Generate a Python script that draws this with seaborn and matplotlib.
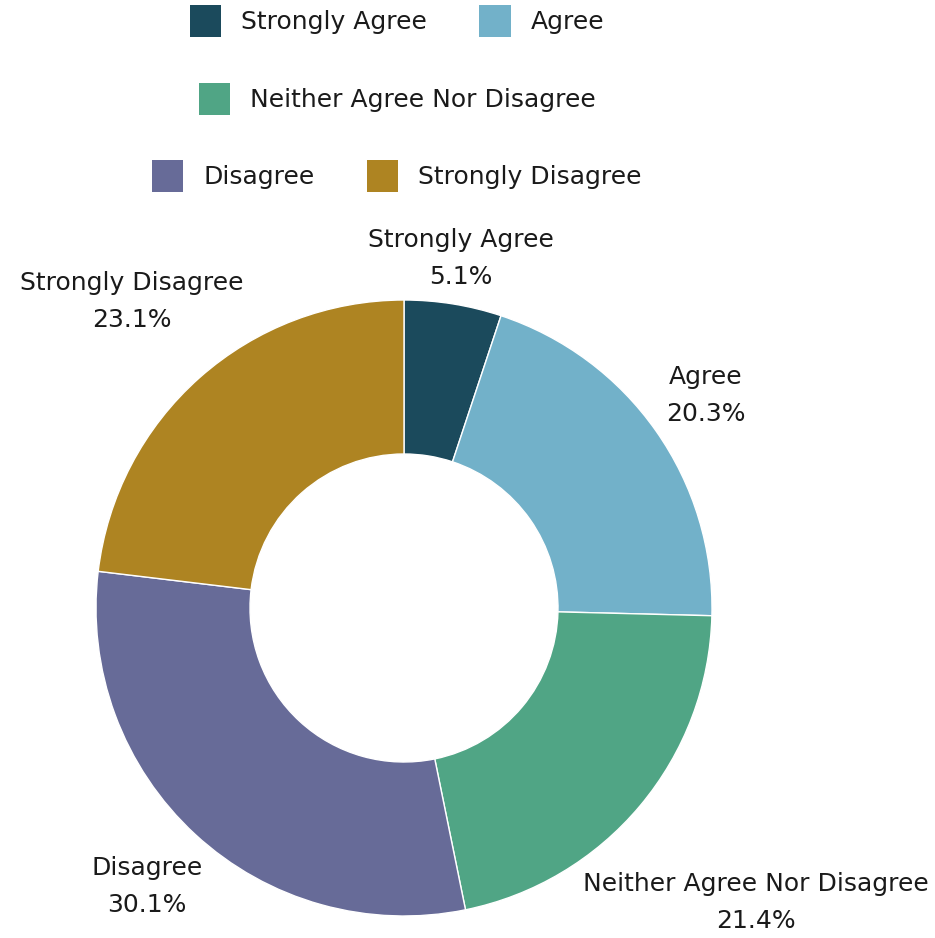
import numpy as np
import matplotlib
matplotlib.use("Agg")
import matplotlib.pyplot as plt
import seaborn as sns
from matplotlib.patches import Patch

# survey answers (percent)
categories = ["Strongly Agree", "Agree", "Neither Agree Nor Disagree",
              "Disagree", "Strongly Disagree"]
shares = [5.1, 20.3, 21.4, 30.1, 23.1]
colors = ["#1b4a5c", "#72b1c9", "#50a585", "#676b98", "#ae8422"]
legend_rows = [[0, 1], [2], [3, 4]]

sns.set_theme(style="white")
plt.rcParams["font.family"] = ["DejaVu Sans"]
FS = 18
TXT = "#1a1a1a"

W, H, DPI = 935, 938, 100
fig = plt.figure(figsize=(W / DPI, H / DPI), dpi=DPI)
ax = fig.add_axes([0, 0, 1, 1])
cx, cy, R = 404, 608, 308  # pie centre / radius in pixels

wedges, _ = ax.pie(shares, colors=colors, startangle=90, counterclock=False,
                   radius=1, wedgeprops=dict(width=0.5, edgecolor="white", linewidth=1))
ax.set_xlim(-cx / R, (W - cx) / R)
ax.set_ylim(-(H - cy) / R, cy / R)
ax.set_aspect("auto")
ax.axis("off")

# labels: box centre on the mid-angle ray, pushed out until it clears the ring
texts = []
for w, cat, s in zip(wedges, categories, shares):
    t = ax.text(0, 0, f"{cat}\n{s}%", ha="center", va="center",
                fontsize=FS, color=TXT, linespacing=1.7)
    texts.append((w, t))
fig.canvas.draw()
rend = fig.canvas.get_renderer()
for w, t in texts:
    bb = t.get_window_extent(rend)
    hw, hh = bb.width / 2 / R, bb.height / 2 / R
    ang = np.deg2rad((w.theta1 + w.theta2) / 2)
    ux, uy = np.cos(ang), np.sin(ang)
    d = 1.0
    while True:
        px, py = d * ux, d * uy
        nx = np.clip(0, px - hw, px + hw)
        ny = np.clip(0, py - hh, py + hh)
        if np.hypot(nx, ny) >= 1.035:
            break
        d += 0.002
    t.set_position((px, py))

# legend in three centred rows
rows_y = [21, 99, 176]
for row, y in zip(legend_rows, rows_y):
    handles = [Patch(facecolor=colors[i], edgecolor="none") for i in row]
    fig.legend(handles, [categories[i] for i in row], loc="center",
               bbox_to_anchor=(397 / W, 1 - y / H), ncol=len(row), frameon=False,
               fontsize=FS, handlelength=1.25, handleheight=1.6,
               handletextpad=0.8, columnspacing=2.1, labelcolor=TXT)

fig.savefig("out.png", dpi=DPI, facecolor="white")
